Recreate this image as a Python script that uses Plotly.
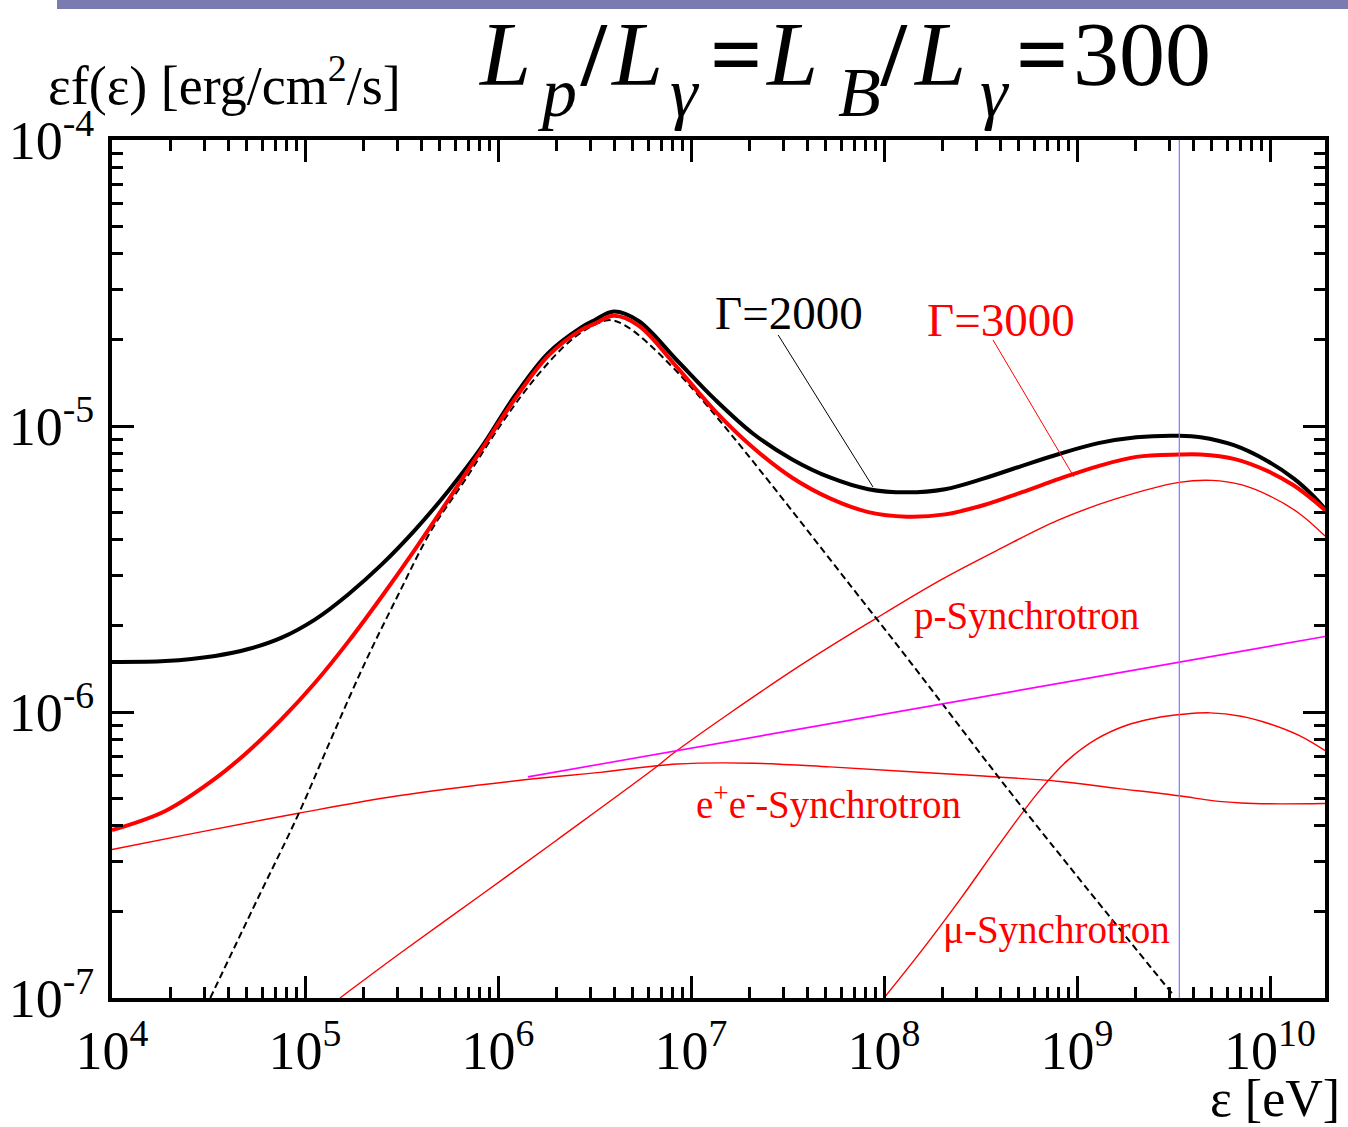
import plotly.graph_objects as go

# ---------------- data (energy in eV, eps f(eps) in erg/cm^2/s) ----------------
E_TOTAL = [1.0e4, 1.89e4, 3.42e4, 5.09e4, 7.57e4, 1.13e5, 1.68e5, 2.50e5, 3.71e5,
           5.51e5, 8.20e5, 1.22e6, 1.82e6, 2.70e6, 3.16e6, 3.98e6, 5.35e6, 8.45e6,
           1.33e7, 2.10e7, 3.33e7, 5.25e7, 8.30e7, 1.31e8, 2.07e8, 3.27e8, 5.15e8,
           8.15e8, 1.29e9, 2.03e9, 3.39e9, 4.37e9, 6.50e9, 9.68e9, 1.33e10, 1.69e10,
           1.93e10]
F_G2000 = [1.496e-6, 1.507e-6, 1.570e-6, 1.660e-6, 1.820e-6, 2.109e-6, 2.582e-6,
           3.281e-6, 4.325e-6, 5.916e-6, 8.414e-6, 1.274e-5, 1.799e-5, 2.213e-5,
           2.344e-5, 2.512e-5, 2.328e-5, 1.698e-5, 1.239e-5, 9.397e-6, 7.656e-6,
           6.607e-6, 6.012e-6, 5.861e-6, 6.012e-6, 6.546e-6, 7.244e-6, 7.998e-6,
           8.710e-6, 9.141e-6, 9.247e-6, 9.141e-6, 8.570e-6, 7.551e-6, 6.546e-6,
           5.662e-6, 5.129e-6]
F_G3000 = [3.864e-7, 4.508e-7, 5.848e-7, 7.295e-7, 9.441e-7, 1.268e-6, 1.766e-6,
           2.535e-6, 3.698e-6, 5.495e-6, 8.260e-6, 1.239e-5, 1.758e-5, 2.168e-5,
           2.275e-5, 2.427e-5, 2.244e-5, 1.607e-5, 1.130e-5, 8.395e-6, 6.607e-6,
           5.585e-6, 5.000e-6, 4.819e-6, 4.909e-6, 5.284e-6, 5.861e-6, 6.546e-6,
           7.244e-6, 7.798e-6, 7.943e-6, 7.943e-6, 7.674e-6, 6.966e-6, 6.194e-6,
           5.483e-6, 5.070e-6]

E_SEED = [3.23e4, 5.62e4, 9.25e4, 1.374e5, 2.042e5, 3.041e5, 4.519e5, 6.73e5, 1.0e6,
          1.486e6, 2.213e6, 2.818e6, 3.707e6, 4.467e6, 8.45e6, 9.08e7, 5.15e8, 3.16e9]
F_SEED = [1.0e-7, 2.188e-7, 4.395e-7, 8.128e-7, 1.483e-6, 2.570e-6, 4.325e-6, 6.457e-6,
          9.772e-6, 1.413e-5, 1.905e-5, 2.163e-5, 2.344e-5, 2.265e-5, 1.549e-5,
          2.133e-6, 4.677e-7, 1.023e-7]

E_PSYN = [1.517e5, 3.162e5, 8.166e5, 1.995e6, 6.501e6, 8.26e6, 3.396e7, 8.974e7,
          1.972e8, 3.981e8, 7.943e8, 1.585e9, 3.388e9, 5.012e9, 7.079e9, 1.0e10,
          1.413e10, 1.93e10]
F_PSYN = [1.0e-7, 1.445e-7, 2.291e-7, 3.548e-7, 6.368e-7, 7.244e-7, 1.403e-6, 2.113e-6,
          2.897e-6, 3.715e-6, 4.677e-6, 5.559e-6, 6.353e-6, 6.457e-6, 6.237e-6,
          5.689e-6, 4.955e-6, 4.121e-6]

E_EESYN = [1.0e4, 2.805e4, 9.247e4, 3.041e5, 1.374e6, 3.388e6, 8.453e6, 2.104e7,
           5.248e7, 1.309e8, 3.266e8, 8.147e8, 1.614e9, 3.388e9, 5.012e9, 7.079e9,
           1.0e10, 1.93e10]
F_EESYN = [3.304e-7, 3.793e-7, 4.426e-7, 5.093e-7, 5.794e-7, 6.152e-7, 6.577e-7,
           6.622e-7, 6.427e-7, 6.194e-7, 5.970e-7, 5.715e-7, 5.408e-7, 5.093e-7,
           4.898e-7, 4.808e-7, 4.775e-7, 4.786e-7]

E_MUSYN = [1.0e8, 1.585e8, 2.512e8, 3.981e8, 6.310e8, 8.913e8, 1.259e9, 1.778e9,
           2.512e9, 3.548e9, 4.898e9, 7.079e9, 1.0e10, 1.413e10, 1.93e10]
F_MUSYN = [1.0e-7, 1.479e-7, 2.239e-7, 3.467e-7, 5.248e-7, 6.761e-7, 8.035e-7,
           8.954e-7, 9.506e-7, 9.817e-7, 9.931e-7, 9.661e-7, 9.078e-7, 8.279e-7,
           7.328e-7]

E_MAGENTA = [1.429e6, 1.93e10]
F_MAGENTA = [5.93e-7, 1.837e-6]

E_BLUE = [3.39e9, 3.39e9]
F_BLUE = [1.0e-7, 1.0e-4]

E_PTR2000 = [2.83e7, 8.77e7]
F_PTR2000 = [2.08e-5, 6.12e-6]
E_PTR3000 = [3.67e8, 9.64e8]
F_PTR3000 = [2.0e-5, 6.64e-6]

X_TICKS = [1e4, 1e5, 1e6, 1e7, 1e8, 1e9, 1e10]
X_TICK_TEXT = ["10<sup>4</sup>", "10<sup>5</sup>", "10<sup>6</sup>", "10<sup>7</sup>",
               "10<sup>8</sup>", "10<sup>9</sup>", "10<sup>10</sup>"]
Y_TICKS = [1e-7, 1e-6, 1e-5, 1e-4]
Y_TICK_TEXT = ["10<sup>-7</sup>", "10<sup>-6</sup>", "10<sup>-5</sup>", "10<sup>-4</sup>"]
X_MINOR = [k * 10.0 ** n for n in range(4, 11) for k in range(2, 10) if k * 10.0 ** n < 1.93e10]
Y_MINOR = [k * 10.0 ** n for n in range(-7, -4) for k in range(2, 10)]

SERIF = "Liberation Serif"
RED = "#ff0000"

fig = go.Figure()


def add_line(x, y, color, width, dash="solid"):
    fig.add_trace(go.Scatter(x=x, y=y, mode="lines", showlegend=False, hoverinfo="skip",
                             line=dict(color=color, width=width, dash=dash, shape="spline",
                                       smoothing=1.0)))


add_line(E_EESYN, F_EESYN, RED, 1.4)
add_line(E_PSYN, F_PSYN, RED, 1.4)
add_line(E_MUSYN, F_MUSYN, RED, 1.4)
add_line(E_SEED, F_SEED, "black", 2, dash="7px,4px")
add_line(E_TOTAL, F_G2000, "black", 4)
add_line(E_TOTAL, F_G3000, RED, 4)
fig.add_trace(go.Scatter(x=E_MAGENTA, y=F_MAGENTA, mode="lines", showlegend=False,
                         hoverinfo="skip", line=dict(color="#ff00ff", width=1.6)))
fig.add_trace(go.Scatter(x=E_BLUE, y=F_BLUE, mode="lines", showlegend=False,
                         hoverinfo="skip", line=dict(color="#7a7aff", width=1.2)))
fig.add_trace(go.Scatter(x=E_PTR2000, y=F_PTR2000, mode="lines", showlegend=False,
                         hoverinfo="skip", line=dict(color="black", width=1)))
fig.add_trace(go.Scatter(x=E_PTR3000, y=F_PTR3000, mode="lines", showlegend=False,
                         hoverinfo="skip", line=dict(color=RED, width=1)))

axis_common = dict(type="log", showgrid=False, zeroline=False, showline=True,
                   automargin=False,
                   linecolor="black", linewidth=4, mirror="allticks", ticks="inside",
                   ticklen=22, tickwidth=3, tickcolor="black",
                   tickfont=dict(family=SERIF, size=54, color="black"))

fig.update_xaxes(range=[4, 10.285], tickvals=X_TICKS, ticktext=X_TICK_TEXT,
                 ticklabelstandoff=2,
                 minor=dict(tickvals=X_MINOR, ticks="inside", ticklen=11, tickwidth=3,
                            tickcolor="black", showgrid=False),
                 **axis_common)
fig.update_yaxes(range=[-7, -4], tickvals=Y_TICKS, ticktext=Y_TICK_TEXT,
                 ticklabelstandoff=3,
                 minor=dict(tickvals=Y_MINOR, ticks="inside", ticklen=11, tickwidth=3,
                            tickcolor="black", showgrid=False),
                 **axis_common)

W, H = 1348, 1127
L_M, R_M, T_M, B_M = 112, 23, 140, 129
PW, PH = W - L_M - R_M, H - T_M - B_M


def px(xp):
    return (xp - L_M) / PW


def py(yp):
    return (H - B_M - yp) / PH


ann = []
# series labels
ann.append(dict(text="Γ=2000", x=7.508, y=-4.605, xref="x", yref="y", showarrow=False,
                font=dict(family=SERIF, size=47, color="black")))
ann.append(dict(text="Γ=3000", x=8.606, y=-4.629, xref="x", yref="y", showarrow=False,
                font=dict(family=SERIF, size=47, color=RED)))
ann.append(dict(text="p-Synchrotron", x=8.736, y=-5.664, xref="x", yref="y",
                showarrow=False, font=dict(family=SERIF, size=39, color=RED)))
ann.append(dict(text="e<sup>+</sup>e<sup>-</sup>-Synchrotron", x=7.715, y=-6.318,
                xref="x", yref="y", showarrow=False,
                font=dict(family=SERIF, size=39, color=RED)))
ann.append(dict(text="μ-Synchrotron", x=8.896, y=-6.762, xref="x", yref="y",
                showarrow=False, font=dict(family=SERIF, size=39, color=RED)))

# axis titles
ann.append(dict(text="εf(ε) [erg/cm<sup>2</sup>/s]", x=px(46), y=py(82), xref="paper",
                yref="paper", xanchor="left", yanchor="middle", showarrow=False,
                font=dict(family=SERIF, size=54, color="black")))
ann.append(dict(text="ε [eV]", x=px(1342), y=py(1098), xref="paper", yref="paper",
                xanchor="right", yanchor="middle", showarrow=False,
                font=dict(family=SERIF, size=52, color="black")))

# big title  L_p / L_gamma = L_B / L_gamma = 300
TITLE_FONT = "Liberation Serif, Times New Roman, serif"
MAIN_FS, SUB_FS = 92, 70
main_cy = 85 - 0.3375 * MAIN_FS
sub_cy = 116 - 0.3375 * SUB_FS
pieces = [
    ("<i>L</i>", 476, main_cy, MAIN_FS),
    ("<i>p</i>", 535, sub_cy, SUB_FS),
    ("<b>/</b>", 578, main_cy, MAIN_FS),
    ("<i>L</i>", 608, main_cy, MAIN_FS),
    ("<i>γ</i>", 668, sub_cy, SUB_FS),
    ("<b>=</b>", 708, main_cy, MAIN_FS),
    ("<i>L</i>", 763, main_cy, MAIN_FS),
    ("<i>B</i>", 836, sub_cy, SUB_FS),
    ("<b>/</b>", 878, main_cy, MAIN_FS),
    ("<i>L</i>", 911, main_cy, MAIN_FS),
    ("<i>γ</i>", 978, sub_cy, SUB_FS),
    ("<b>=</b>", 1014, main_cy, MAIN_FS),
    ("300", 1071, main_cy, MAIN_FS),
]
for txt, xl, cy, fs in pieces:
    ann.append(dict(text=txt, x=px(xl), y=py(cy), xref="paper", yref="paper",
                    xanchor="left", yanchor="middle", showarrow=False,
                    font=dict(family=TITLE_FONT, size=fs, color="black")))

fig.update_layout(
    width=W, height=H,
    margin=dict(l=L_M, r=R_M, t=T_M, b=B_M, pad=0),
    paper_bgcolor="white", plot_bgcolor="white",
    font=dict(family=SERIF),
    annotations=ann,
    shapes=[dict(type="rect", xref="paper", yref="paper", x0=px(57), x1=px(1348),
                 y0=py(9), y1=py(0), fillcolor="#7b7bb0", line=dict(width=0),
                 layer="above")],
)

fig.write_html("out.html")
